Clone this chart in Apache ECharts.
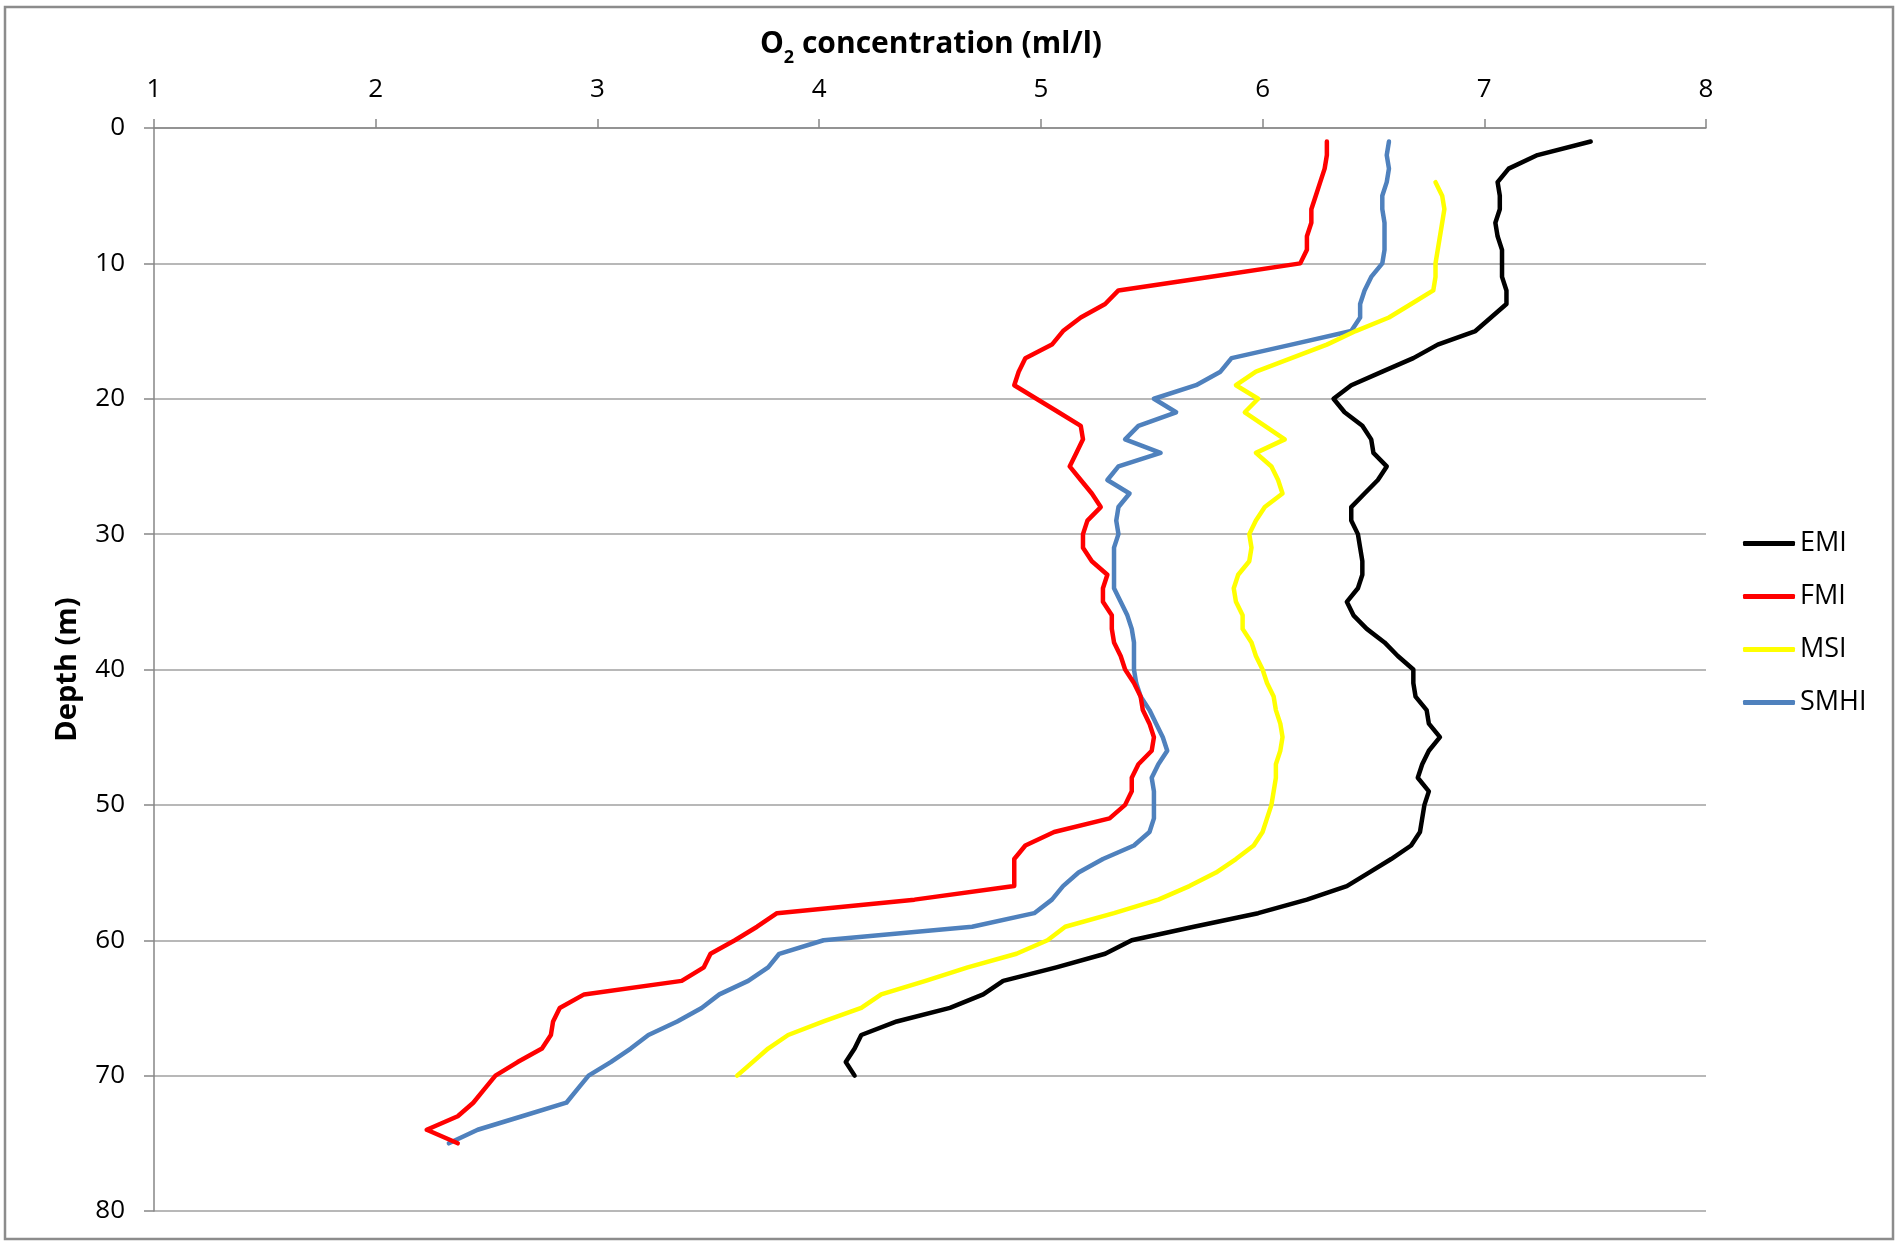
<!DOCTYPE html>
<html>
<head>
<meta charset="utf-8">
<script src="https://cdn.jsdelivr.net/npm/echarts@6/dist/echarts.min.js"></script>
<style>html,body{margin:0;padding:0;background:#fff}#c{width:1900px;height:1248px}</style>
</head>
<body>
<div id="c"></div>
<script>
// ---- data (O2 concentration in ml/l vs depth in m) ----
const seriesNames = ['EMI', 'FMI', 'MSI', 'SMHI'];
const xTicks = [1, 2, 3, 4, 5, 6, 7, 8];
const yTicks = [0, 10, 20, 30, 40, 50, 60, 70, 80];

const emiDepth = [1,2,3,4,5,6,7,8,9,10,11,12,13,14,15,16,17,18,19,20,21,22,23,24,25,26,27,28,29,30,31,32,33,34,35,36,37,38,39,40,41,42,43,44,45,46,47,48,49,50,51,52,53,54,55,56,57,58,59,60,61,62,63,64,65,66,67,68,69,70];
const emiO2 = [7.48,7.24,7.11,7.06,7.07,7.07,7.05,7.06,7.08,7.08,
  7.08,7.10,7.10,7.03,6.96,6.79,6.68,6.54,6.40,6.32,
  6.37,6.45,6.49,6.50,6.56,6.52,6.46,6.40,6.40,6.43,
  6.44,6.45,6.45,6.43,6.38,6.41,6.47,6.55,6.61,6.68,
  6.68,6.69,6.74,6.75,6.80,6.75,6.72,6.70,6.75,6.73,
  6.72,6.71,6.67,6.58,6.48,6.38,6.20,5.98,5.69,5.41,
  5.29,5.07,4.83,4.74,4.59,4.35,4.19,4.16,4.12,4.16];

const fmiDepth = [1,2,3,4,5,6,7,8,9,10,11,12,13,14,15,16,17,18,19,20,21,22,23,24,25,26,27,28,29,30,31,32,33,34,35,36,37,38,39,40,41,42,43,44,45,46,47,48,49,50,51,52,53,54,55,56,57,58,59,60,61,62,63,64,65,66,67,68,69,70,71,72,73,74,75];
const fmiO2 = [6.29,6.29,6.28,6.26,6.24,6.22,6.22,6.20,6.20,6.17,
  5.76,5.35,5.29,5.18,5.10,5.05,4.93,4.90,4.88,4.98,
  5.08,5.18,5.19,5.16,5.13,5.18,5.23,5.27,5.21,5.19,
  5.19,5.23,5.30,5.28,5.28,5.32,5.32,5.33,5.36,5.38,
  5.42,5.45,5.46,5.49,5.51,5.50,5.44,5.41,5.41,5.38,
  5.31,5.06,4.93,4.88,4.88,4.88,4.43,3.81,3.72,3.62,
  3.51,3.48,3.38,2.94,2.83,2.80,2.79,2.75,2.64,2.54,
  2.49,2.44,2.37,2.23,2.37];

const msiDepth = [4,5,6,7,8,9,10,11,12,13,14,15,16,17,18,19,20,21,22,23,24,25,26,27,28,29,30,31,32,33,34,35,36,37,38,39,40,41,42,43,44,45,46,47,48,49,50,51,52,53,54,55,56,57,58,59,60,61,62,63,64,65,66,67,68,69,70];
const msiO2 = [6.78,6.81,6.82,6.81,6.80,6.79,6.78,6.78,6.77,6.67,
  6.57,6.42,6.29,6.13,5.97,5.88,5.98,5.92,6.01,6.10,
  5.97,6.04,6.07,6.09,6.01,5.97,5.94,5.95,5.94,5.89,
  5.87,5.88,5.91,5.91,5.95,5.97,6.00,6.02,6.05,6.06,
  6.08,6.09,6.08,6.06,6.06,6.05,6.04,6.02,6.00,5.96,
  5.88,5.79,5.67,5.53,5.33,5.11,5.03,4.89,4.67,4.48,
  4.28,4.19,4.02,3.86,3.77,3.70,3.63];

const smhiDepth = [1,2,3,4,5,6,7,8,9,10,11,12,13,14,15,16,17,18,19,20,21,22,23,24,25,26,27,28,29,30,31,32,33,34,35,36,37,38,39,40,41,42,43,44,45,46,47,48,49,50,51,52,53,54,55,56,57,58,59,60,61,62,63,64,65,66,67,68,69,70,71,72,73,74,75];
const smhiO2 = [6.57,6.56,6.57,6.56,6.54,6.54,6.55,6.55,6.55,6.54,
  6.49,6.46,6.44,6.44,6.40,6.13,5.86,5.81,5.70,5.51,
  5.61,5.44,5.38,5.54,5.35,5.30,5.40,5.35,5.34,5.35,
  5.33,5.33,5.33,5.33,5.36,5.39,5.41,5.42,5.42,5.42,
  5.43,5.45,5.49,5.52,5.55,5.57,5.53,5.50,5.51,5.51,
  5.51,5.49,5.42,5.28,5.17,5.10,5.05,4.97,4.69,4.02,
  3.82,3.77,3.68,3.55,3.47,3.36,3.23,3.15,3.06,2.96,
  2.91,2.86,2.66,2.46,2.33];

const seriesColors = ['#000000', '#ff0000', '#ffff00', '#4f81bd'];

// ---- build ----
const FONT = '"Open Sans", "Liberation Sans", sans-serif';
function pairs(xs, ys) { return xs.map((x, i) => [x, ys[i]]); }
const allData = [pairs(emiO2, emiDepth), pairs(fmiO2, fmiDepth), pairs(msiO2, msiDepth), pairs(smhiO2, smhiDepth)];

const chart = echarts.init(document.getElementById('c'), null, {renderer: 'canvas'});
const option = {
  animation: false,
  backgroundColor: '#ffffff',
  grid: {left: 154, right: 194, top: 128, bottom: 37, containLabel: false},
  graphic: [
    {type: 'rect', shape: {x: 5, y: 7, width: 1888, height: 1232},
     style: {fill: null, stroke: '#8c8c8c', lineWidth: 2.5}, silent: true, z: -1},
    {type: 'text', x: 931, y: 21,
     style: {
       text: '{a|O}{b|2}{a| concentration (ml/l)}',
       align: 'center', verticalAlign: 'top', textAlign: 'center', textVerticalAlign: 'top',
       rich: {
         a: {fontSize: 30, fontWeight: 'bold', fontFamily: FONT, lineHeight: 46, fill: '#000', color: '#000'},
         b: {fontSize: 18, fontWeight: 'bold', fontFamily: FONT, lineHeight: 18, verticalAlign: 'bottom', fill: '#000', color: '#000'}
       }
     }}
  ],
  legend: {
    orient: 'vertical', left: 1743, top: 530, padding: 0,
    itemWidth: 52, itemHeight: 5, itemGap: 26,
    data: seriesNames.map(n => ({name: n, icon: 'roundRect'})),
    textStyle: {fontSize: 27, fontFamily: FONT, color: '#000', padding: [0, 0, 0, 0]}
  },
  xAxis: {
    type: 'value', position: 'top', min: xTicks[0], max: xTicks[xTicks.length - 1], interval: 1,
    axisLine: {show: true, lineStyle: {color: '#868686', width: 1.5}},
    axisTick: {show: true, length: 9, lineStyle: {color: '#868686', width: 1.5}},
    axisLabel: {fontSize: 26, fontFamily: FONT, color: '#000', margin: 25},
    splitLine: {show: false}
  },
  yAxis: {
    type: 'value', inverse: true, min: yTicks[0], max: yTicks[yTicks.length - 1], interval: 10,
    name: 'Depth (m)', nameLocation: 'middle', nameGap: 72, nameRotate: 90,
    nameTextStyle: {fontSize: 29, fontWeight: 'bold', fontFamily: FONT, color: '#000'},
    axisLine: {show: true, lineStyle: {color: '#868686', width: 1.5}},
    axisTick: {show: true, length: 10, lineStyle: {color: '#868686', width: 1.5}},
    axisLabel: {fontSize: 26, fontFamily: FONT, color: '#000', margin: 29},
    splitLine: {show: true, lineStyle: {color: '#a0a0a0', width: 1.5}}
  },
  series: seriesNames.map((n, i) => ({
    name: n, type: 'line', data: allData[i], symbol: 'none', smooth: false,
    color: seriesColors[i],
    lineStyle: {color: seriesColors[i], width: 4.5, join: 'round', cap: 'round'},
    z: 10 - i
  }))
};
chart.setOption(option);
</script>
</body>
</html>
